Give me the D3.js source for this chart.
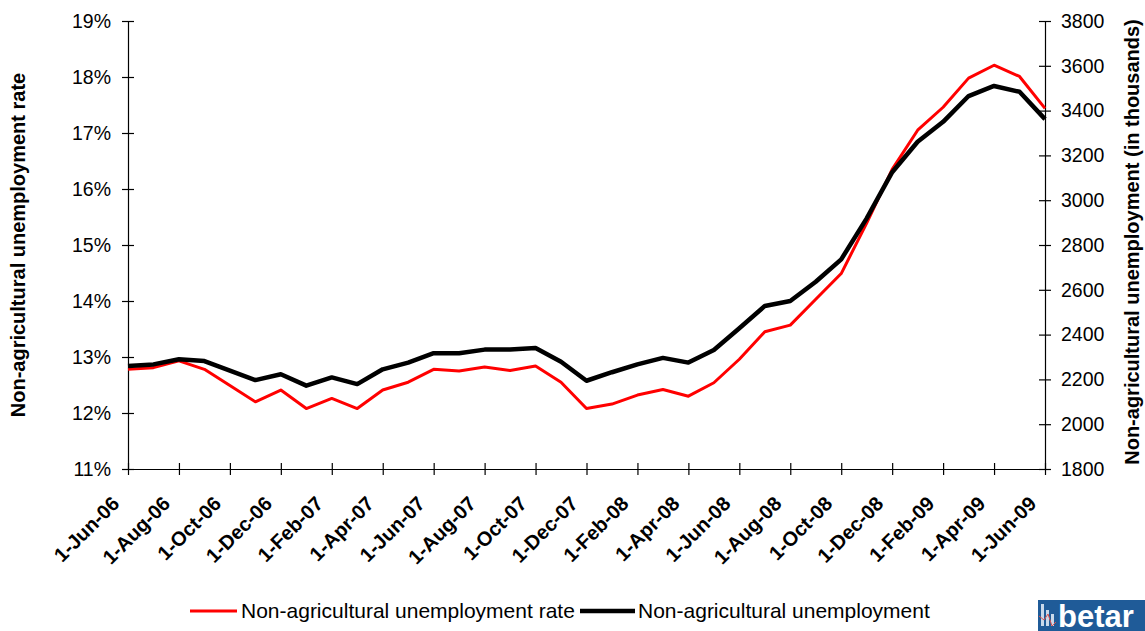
<!DOCTYPE html>
<html>
<head>
<meta charset="utf-8">
<script src="https://cdn.jsdelivr.net/npm/d3@7"></script>
<style>
  body { margin: 0; background: #fff; }
  svg { display: block; font-family: "Liberation Sans", Arial, sans-serif; }
</style>
</head>
<body>
<svg id="chart" width="1145" height="631"></svg>
<script>
/* Data */
var months = ["1-Jun-06","1-Jul-06","1-Aug-06","1-Sep-06","1-Oct-06","1-Nov-06","1-Dec-06",
  "1-Jan-07","1-Feb-07","1-Mar-07","1-Apr-07","1-May-07","1-Jun-07","1-Jul-07","1-Aug-07",
  "1-Sep-07","1-Oct-07","1-Nov-07","1-Dec-07","1-Jan-08","1-Feb-08","1-Mar-08","1-Apr-08",
  "1-May-08","1-Jun-08","1-Jul-08","1-Aug-08","1-Sep-08","1-Oct-08","1-Nov-08","1-Dec-08",
  "1-Jan-09","1-Feb-09","1-Mar-09","1-Apr-09","1-May-09","1-Jun-09"];

// non-agricultural unemployment rate, %
var rate = [12.78, 12.81, 12.93, 12.78, 12.49, 12.20, 12.41, 12.08, 12.26, 12.08,
  12.41, 12.55, 12.78, 12.75, 12.82, 12.76, 12.84, 12.55, 12.08, 12.16,
  12.32, 12.42, 12.30, 12.54, 12.96, 13.45, 13.57, 14.03, 14.49, 15.39,
  16.35, 17.05, 17.46, 17.98, 18.21, 18.01, 17.44];

// non-agricultural unemployment, thousands
var unemployed = [2260, 2267, 2290, 2282, 2239, 2197, 2223, 2172, 2209, 2179,
  2245, 2275, 2317, 2317, 2333, 2333, 2340, 2279, 2194, 2232,
  2267, 2296, 2275, 2331, 2428, 2528, 2550, 2636, 2736, 2919,
  3125, 3261, 3350, 3465, 3510, 3484, 3362];

var leftTicks = [11, 12, 13, 14, 15, 16, 17, 18, 19];
var rightTicks = [1800, 2000, 2200, 2400, 2600, 2800, 3000, 3200, 3400, 3600, 3800];
var xLabels = months.filter(function(d, i) { return i % 2 === 0; });

var legendItems = [
  {name: "Non-agricultural unemployment rate", color: "#ff0000", width: 3},
  {name: "Non-agricultural unemployment", color: "#000000", width: 4.5}
];

/* Layout */
var plot = {left: 128, right: 1045, top: 21, bottom: 469};
var svg = d3.select("#chart");

var x = d3.scalePoint().domain(months).range([plot.left, plot.right]);
var yL = d3.scaleLinear().domain([11, 19]).range([plot.bottom, plot.top]);
var yR = d3.scaleLinear().domain([1800, 3800]).range([plot.bottom, plot.top]);

var xAxis = d3.axisBottom(x).tickValues(xLabels).tickSizeInner(6).tickSizeOuter(0).tickFormat("");
var leftAxis = d3.axisLeft(yL).tickValues(leftTicks).tickSizeInner(6).tickSizeOuter(0)
  .tickFormat(function(d) { return d + "%"; });
var rightAxis = d3.axisRight(yR).tickValues(rightTicks).tickSizeInner(6).tickSizeOuter(0)
  .tickFormat(d3.format("d"));

var styleAxis = function(g) {
  g.select(".domain").attr("stroke", "#000").attr("stroke-width", 1.2);
  g.selectAll(".tick line").attr("stroke", "#000").attr("stroke-width", 1.2);
  g.selectAll(".tick text").attr("fill", "#000").style("font-size", "19.5px");
}

var gl = svg.append("g").attr("transform", "translate(" + plot.left + ",0)").call(leftAxis);
gl.selectAll(".tick line").attr("x1", 6);  // ticks cross the axis
styleAxis(gl);
gl.selectAll(".tick text").attr("x", -17);

var gr = svg.append("g").attr("transform", "translate(" + plot.right + ",0)").call(rightAxis);
gr.selectAll(".tick line").attr("x1", -6);
styleAxis(gr);
gr.selectAll(".tick text").attr("x", 16);

var gx = svg.append("g").attr("transform", "translate(0," + plot.bottom + ")").call(xAxis);
gx.selectAll(".tick line").attr("y1", -6);
styleAxis(gx);
gx.selectAll(".tick").append("text")
  .attr("fill", "#000")
  .attr("text-anchor", "end")
  .attr("transform", "translate(-8,36) rotate(-45)")
  .style("font-size", "20px")
  .style("font-weight", "bold")
  .text(function(d) { return d; });

/* Axis titles */
svg.append("text")
  .attr("transform", "translate(25," + ((plot.top + plot.bottom) / 2) + ") rotate(-90)")
  .attr("text-anchor", "middle")
  .style("font-size", "20px").style("font-weight", "bold")
  .text("Non-agricultural unemployment rate");

svg.append("text")
  .attr("transform", "translate(1139," + ((plot.top + plot.bottom) / 2 - 3) + ") rotate(-90)")
  .attr("text-anchor", "middle")
  .style("font-size", "20px").style("font-weight", "bold")
  .text("Non-agricultural unemployment (in thousands)");

/* Lines */
var lineL = d3.line().x(function(d, i) { return x(months[i]); }).y(function(d) { return yL(d); });
var lineR = d3.line().x(function(d, i) { return x(months[i]); }).y(function(d) { return yR(d); });

svg.append("path").datum(rate)
  .attr("fill", "none").attr("stroke", legendItems[0].color)
  .attr("stroke-width", legendItems[0].width).attr("stroke-linejoin", "round")
  .attr("d", lineL);

svg.append("path").datum(unemployed)
  .attr("fill", "none").attr("stroke", legendItems[1].color)
  .attr("stroke-width", legendItems[1].width).attr("stroke-linejoin", "round")
  .attr("d", lineR);

/* Legend */
var legendX = [190, 580];
var lg = svg.selectAll(".legend").data(legendItems).enter().append("g")
  .attr("class", "legend")
  .attr("transform", function(d, i) { return "translate(" + legendX[i] + ",611)"; });
lg.append("line")
  .attr("x2", function(d, i) { return i === 0 ? 47 : 55; })
  .attr("stroke", function(d) { return d.color; })
  .attr("stroke-width", function(d) { return d.width; });
lg.append("text")
  .attr("x", function(d, i) { return i === 0 ? 51 : 58; })
  .attr("y", 7)
  .style("font-size", "21px")
  .text(function(d) { return d.name; });

/* Logo in the corner */
var logo = svg.append("g").attr("transform", "translate(1038,600)");
logo.append("rect").attr("width", 107).attr("height", 31).attr("fill", "#1f5b98");
logo.append("rect").attr("x", 3).attr("y", 4).attr("width", 3).attr("height", 22).attr("fill", "#c9d9ea");
logo.append("rect").attr("x", 8).attr("y", 10).attr("width", 3).attr("height", 16).attr("fill", "#c9d9ea");
logo.append("rect").attr("x", 13).attr("y", 14).attr("width", 3).attr("height", 12).attr("fill", "#c9d9ea");
logo.append("path").attr("d", "M1,16 L6,20 L10,14 L14,26 L18,22")
  .attr("fill", "none").attr("stroke", "#d9534f").attr("stroke-width", 1);
logo.append("text").attr("x", 20).attr("y", 27)
  .attr("fill", "#fff").style("font-size", "31px").style("font-weight", "bold")
  .text("betar");
</script>
</body>
</html>
